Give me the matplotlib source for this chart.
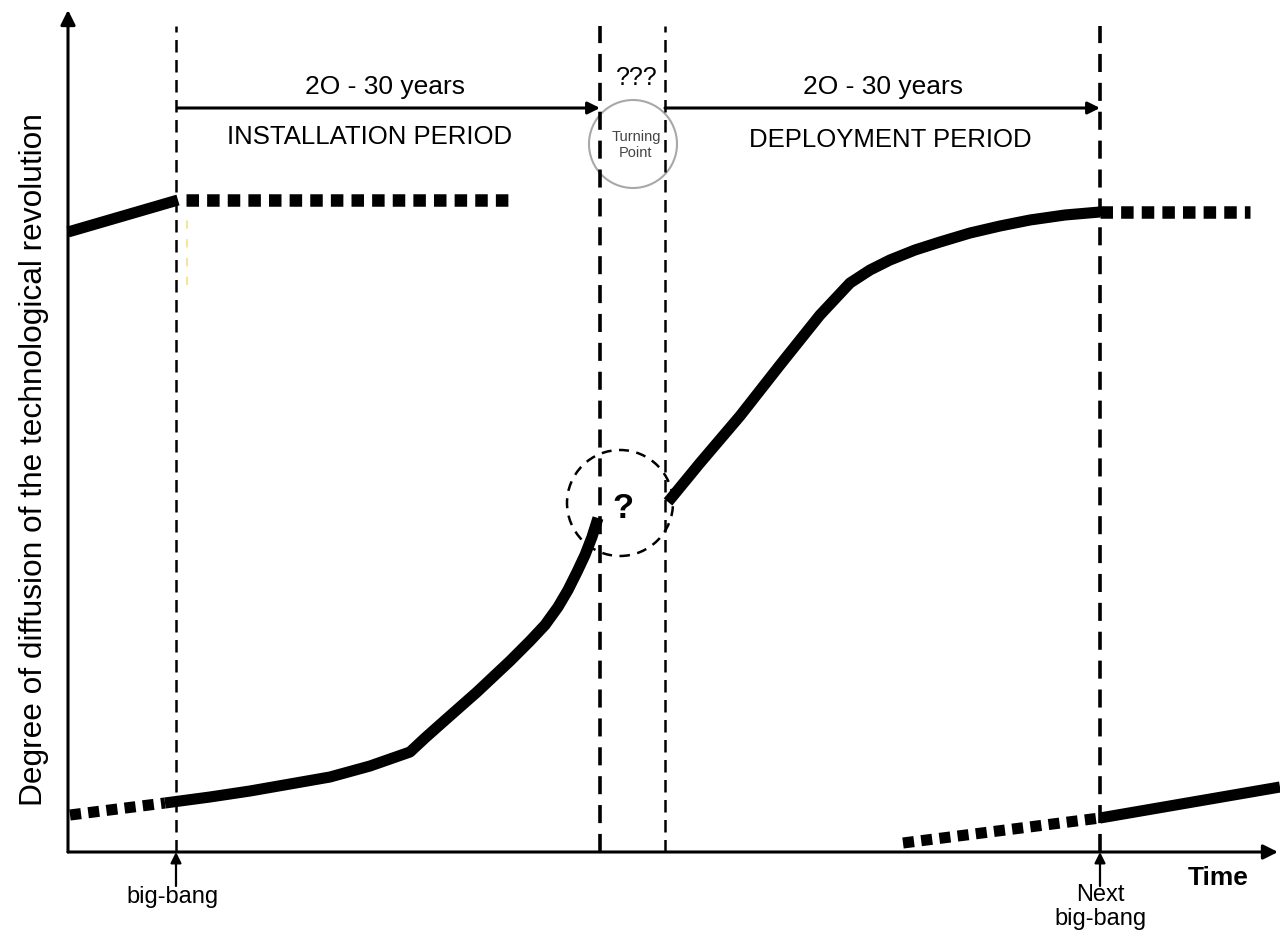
"""
Technological revolution life cycle sketch
Installation period -> turning point -> deployment period
"""

from matplotlib import pyplot as plt
from matplotlib.patches import Circle

plt.rcParams["font.family"] = ["Liberation Sans", "DejaVu Sans"]

# Time axis runs 0 .. 1212, diffusion axis 0 .. 852 (arbitrary units)
BIG_BANG = 108
TURN_START = 532
TURN_END = 597
NEXT_BIG_BANG = 1032

# previous revolution (top left)
prev_solid_t = [0, 110]
prev_solid_d = [620, 652]
prev_dot_t = [118, 442]
prev_dot_d = [652, 652]

# gestation before the big-bang
gest_t = [2, 97]
gest_d = [37, 49]

# installation period
inst_t = [97, 142, 182, 222, 262, 302, 342, 357, 375, 409, 442, 462, 477, 490, 500, 509, 517, 524, 530]
inst_d = [49, 55, 61, 68, 75, 86, 100, 114, 130, 160, 191, 211, 227, 245, 262, 280, 297, 315, 334]

# deployment period
depl_t = [600, 632, 672, 712, 752, 782, 802, 822, 847, 872, 902, 932, 962, 997, 1032]
depl_d = [350, 389, 436, 487, 537, 569, 582, 592, 602, 610, 619, 626, 632, 637, 640]

# maturity after next big-bang
mat_t = [1032, 1182]
mat_d = [640, 640]

# next revolution (bottom right)
next_dot_t = [835, 1032]
next_dot_d = [9, 34]
next_solid_t = [1032, 1212]
next_solid_d = [34, 65]

fig = plt.figure(figsize=(12.8, 9.36), dpi=100)
ax = fig.add_axes([0, 0, 1, 1])
ax.set_xlim(-68, 1212)
ax.set_ylim(-84, 852)
ax.axis("off")

THICK = 8
dots = (0, (1.0, 0.65))

# axes with arrow heads
arrow_kw = dict(arrowstyle="-|>", color="black", lw=2.2, mutation_scale=22, shrinkA=0, shrinkB=0)
ax.annotate("", xy=(0, 842), xytext=(0, 0), arrowprops=arrow_kw)
ax.annotate("", xy=(1210, 0), xytext=(0, 0), arrowprops=arrow_kw)

# period boundaries
for t, lw in [(BIG_BANG, 1.8), (TURN_START, 2.6), (TURN_END, 1.8), (NEXT_BIG_BANG, 2.6)]:
    ax.plot([t, t], [0, 826], color="black", lw=lw, ls=(0, (5, 3)))

# faint yellow trace near big-bang
ax.plot([119, 119], [567, 637], color="#f3e6a0", lw=1.5, ls=(0, (4, 5)))

# curves
ax.plot(prev_solid_t, prev_solid_d, color="black", lw=THICK, solid_capstyle="butt")
ax.plot(prev_dot_t, prev_dot_d, color="black", lw=9, ls=dots, dash_capstyle="butt")
ax.plot(gest_t, gest_d, color="black", lw=THICK, ls=dots, dash_capstyle="butt")
ax.plot(inst_t, inst_d, color="black", lw=THICK, solid_joinstyle="round", solid_capstyle="butt")
ax.plot(depl_t, depl_d, color="black", lw=THICK, solid_joinstyle="round", solid_capstyle="butt")
ax.plot(mat_t, mat_d, color="black", lw=9, ls=dots, dash_capstyle="butt")
ax.plot(next_dot_t, next_dot_d, color="black", lw=THICK, ls=dots, dash_capstyle="butt")
ax.plot(next_solid_t, next_solid_d, color="black", lw=THICK, solid_capstyle="butt")

# period arrows
per_kw = dict(arrowstyle="-|>", color="black", lw=2.2, mutation_scale=18, shrinkA=0, shrinkB=0)
ax.annotate("", xy=(TURN_START, 744), xytext=(BIG_BANG + 2, 744), arrowprops=per_kw)
ax.annotate("", xy=(NEXT_BIG_BANG, 744), xytext=(TURN_END, 744), arrowprops=per_kw)

# big-bang arrows
up_kw = dict(arrowstyle="-|>", color="black", lw=1.6, mutation_scale=16, shrinkA=0, shrinkB=0)
ax.annotate("", xy=(BIG_BANG, 0), xytext=(BIG_BANG, -34), arrowprops=up_kw)
ax.annotate("", xy=(NEXT_BIG_BANG, 0), xytext=(NEXT_BIG_BANG, -34), arrowprops=up_kw)

# turning point circles
ax.add_patch(Circle((565, 708), 44, fill=False, ec="#a8a8a8", lw=1.5))
ax.add_patch(Circle((552, 349), 53, fill=False, ec="black", lw=1.8, ls=(0, (4, 3))))

# texts
ax.text(317, 765, "2O - 30 years", ha="center", va="center", fontsize=19)
ax.text(815, 765, "2O - 30 years", ha="center", va="center", fontsize=19)
ax.text(569, 774, "???", ha="center", va="center", fontsize=18)
ax.text(302, 715, "INSTALLATION PERIOD", ha="center", va="center", fontsize=18.5)
ax.text(822, 712, "DEPLOYMENT PERIOD", ha="center", va="center", fontsize=18.5)
ax.text(568, 707, "Turning\nPoint", ha="center", va="center", fontsize=10.5, color="#444444",
        linespacing=1.25)
ax.text(555, 343, "?", ha="center", va="center", fontsize=25, fontweight="bold")
ax.text(-34, 392, "Degree of diffusion of the technological revolution", rotation=90,
        ha="center", va="center", fontsize=22.8)
ax.text(1150, -26, "Time", ha="center", va="center", fontsize=19, fontweight="bold")
ax.text(104, -45, "big-bang", ha="center", va="center", fontsize=17)
ax.text(1032, -55, "Next\nbig-bang", ha="center", va="center", fontsize=17, linespacing=1.1)

fig.savefig("out.png", dpi=100)
